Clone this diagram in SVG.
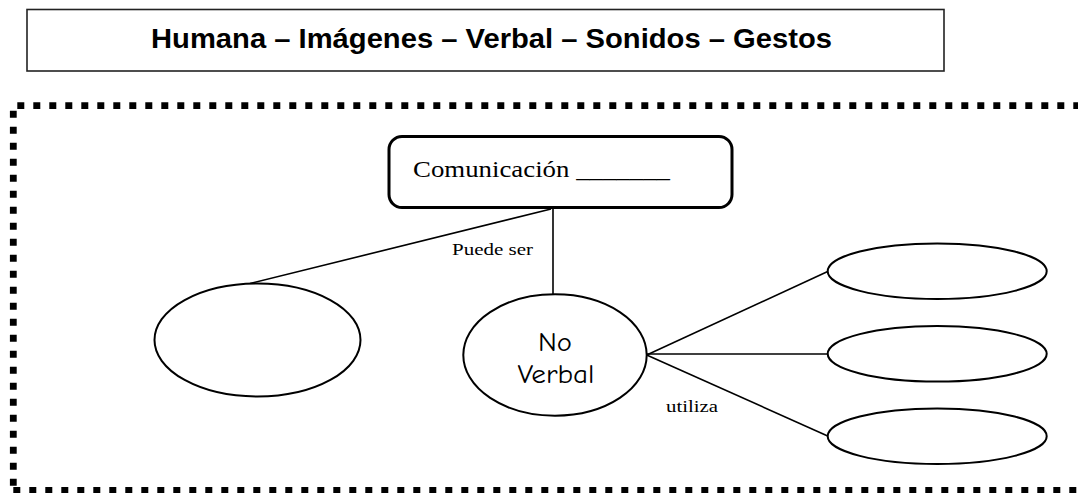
<svg xmlns="http://www.w3.org/2000/svg" width="1078" height="493" viewBox="0 0 1078 493">
<defs>
<style>
.frame{fill:none;stroke:#000;stroke-width:6.8;stroke-dasharray:7 9}
.oval{fill:#fff;stroke:#000;stroke-width:2}
.conn{fill:none;stroke:#000;stroke-width:1.6}
.serif{font-family:"Liberation Serif","Times New Roman",serif;fill:#000}
.comic{font-family:"Comic Sans MS","Comic Neue","DejaVu Sans","Liberation Sans",sans-serif;fill:#000;font-size:26px}
</style>
</defs>
<rect width="1078" height="493" fill="#fff"/>
<g id="title">
<rect x="27" y="9.5" width="917" height="61.5" fill="#fff" stroke="#222" stroke-width="1.6"/>
<text x="151" y="48" font-family="Liberation Sans, Arial, sans-serif" font-weight="bold" font-size="27" textLength="681" lengthAdjust="spacingAndGlyphs">Humana – Imágenes – Verbal – Sonidos – Gestos</text>
</g>
<g id="frame">
<line class="frame" x1="17.3" y1="105.7" x2="1078" y2="105.7"/>
<line class="frame" x1="13.3" y1="110.7" x2="13.3" y2="490"/>
<line class="frame" x1="13.3" y1="490.5" x2="1078" y2="490.5"/>
</g>
<g id="connectors">
<line class="conn" x1="551" y1="209" x2="250" y2="283.5"/>
<line class="conn" x1="553" y1="209" x2="553" y2="294.5"/>
<line class="conn" x1="646.7" y1="355" x2="827.7" y2="271.5"/>
<line class="conn" x1="646.7" y1="354" x2="827.7" y2="354"/>
<line class="conn" x1="646.7" y1="355" x2="827.7" y2="436"/>
<text class="serif" x="452" y="255" font-size="17" textLength="81" lengthAdjust="spacingAndGlyphs">Puede ser</text>
<text class="serif" x="666" y="411.5" font-size="17" textLength="52" lengthAdjust="spacingAndGlyphs">utiliza</text>
</g>
<g id="comunicacion">
<rect x="389" y="136.5" width="343" height="71" rx="13" ry="13" fill="#fff" stroke="#000" stroke-width="3"/>
<text class="serif" x="413" y="177" font-size="24" textLength="257" lengthAdjust="spacingAndGlyphs">Comunicación _______</text>
</g>
<g id="left-oval">
<ellipse class="oval" cx="257.5" cy="340" rx="103" ry="56.5"/>
</g>
<g id="no-verbal">
<ellipse class="oval" cx="555" cy="355" rx="91.7" ry="60.7"/>
<text class="comic" x="555" y="351" text-anchor="middle" textLength="34" lengthAdjust="spacingAndGlyphs">No</text>
<text class="comic" x="556" y="383.3" text-anchor="middle" textLength="77" lengthAdjust="spacingAndGlyphs">Verbal</text>
</g>
<g id="oval-1">
<ellipse class="oval" cx="937.2" cy="271.2" rx="109.5" ry="27.8"/>
</g>
<g id="oval-2">
<ellipse class="oval" cx="937.2" cy="353.8" rx="109.5" ry="27.8"/>
</g>
<g id="oval-3">
<ellipse class="oval" cx="937.2" cy="436.2" rx="109.5" ry="27.8"/>
</g>
</svg>
